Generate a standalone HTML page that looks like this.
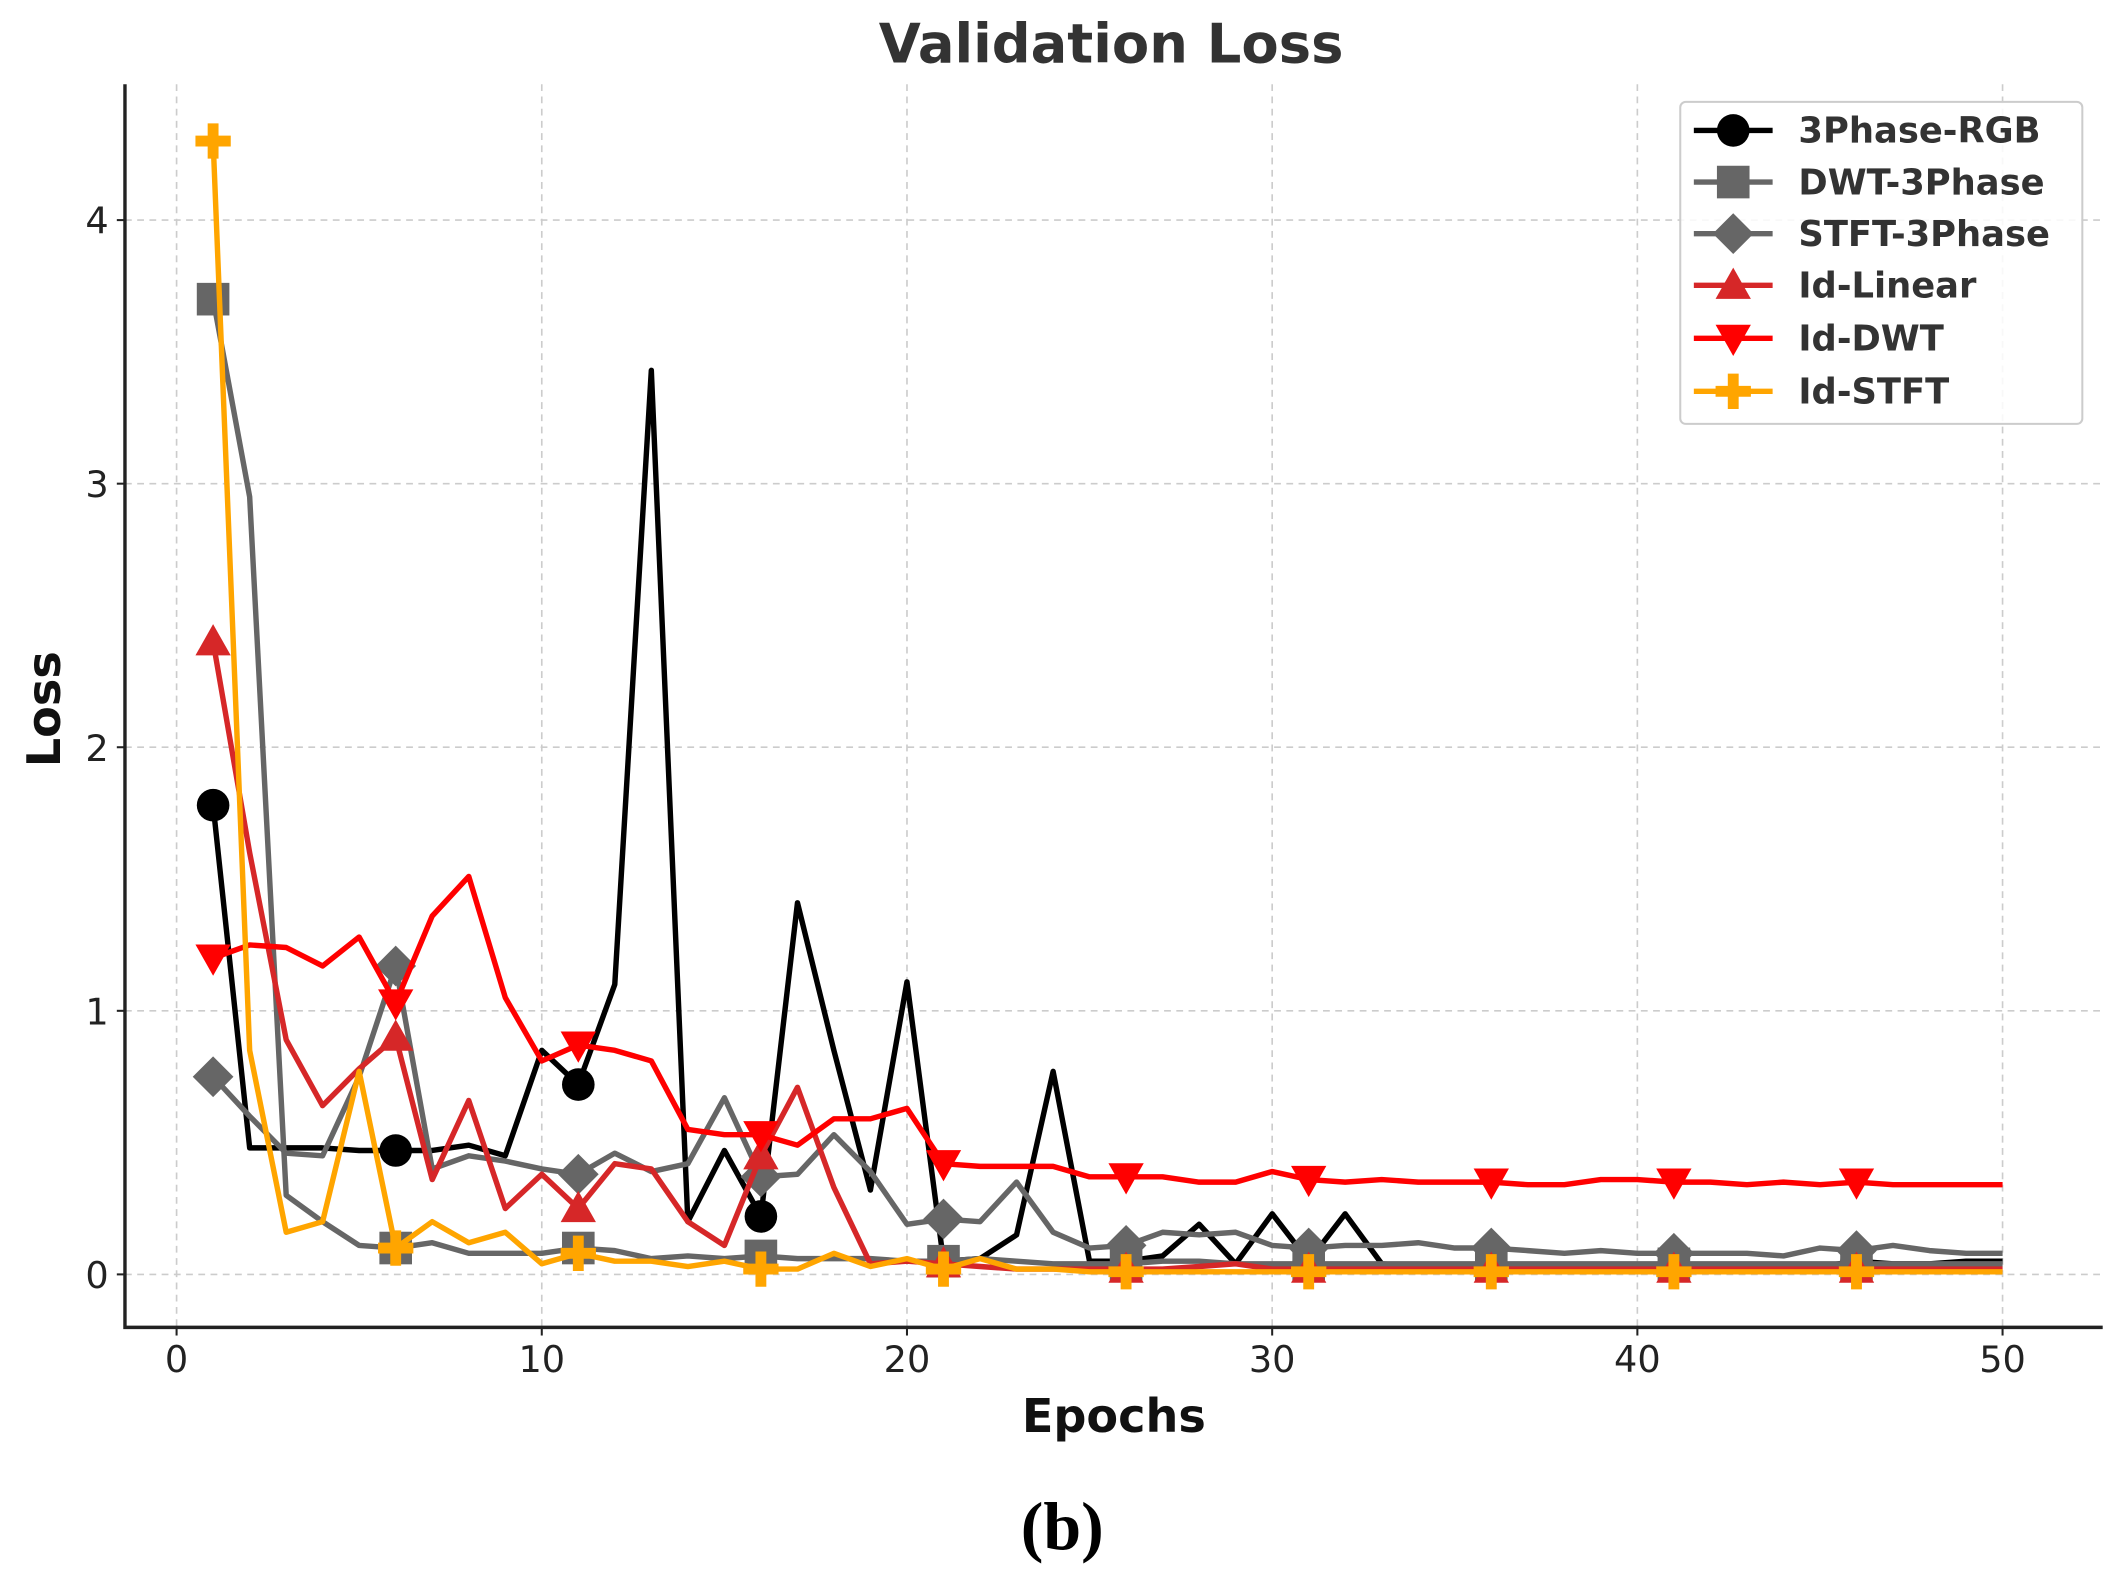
<!DOCTYPE html>
<html><head><meta charset="utf-8"><style>
html,body{margin:0;padding:0;background:#fff;}
svg{display:block;}
text{font-family:"DejaVu Sans","Liberation Sans",sans-serif;}
</style></head><body>
<svg id="chart" width="2119" height="1576" viewBox="0 0 1560 1160" preserveAspectRatio="none" xmlns="http://www.w3.org/2000/svg">
<text x="818" y="46" text-anchor="middle" font-size="40" font-weight="bold" fill="#333">Validation Loss</text>
<g id="grid"></g>
<g id="series"></g>
<g id="axes"></g>
<text x="820" y="1054" text-anchor="middle" font-size="34" font-weight="bold" fill="#111">Epochs</text>
<text transform="translate(44,522) rotate(-90)" text-anchor="middle" font-size="34" font-weight="bold" fill="#111">Loss</text>
<text x="782" y="1140" text-anchor="middle" font-size="50" font-weight="bold" style="font-family:'Liberation Serif',serif" fill="#000">(b)</text>
<g id="legend"></g>
</svg>
<script>
const epochs = Array.from({length:50},(_,i)=>i+1);
const seriesNames = ["3Phase-RGB","DWT-3Phase","STFT-3Phase","Id-Linear","Id-DWT","Id-STFT"];
const rgb = [1.78,0.48,0.48,0.48,0.47,0.47,0.47,0.49,0.45,0.85,0.72,1.1,3.43,0.2,0.47,0.22,1.41,0.85,0.32,1.11,0.05,0.06,0.15,0.77,0.05,0.05,0.07,0.19,0.04,0.23,0.05,0.23,0.04,0.03,0.03,0.03,0.03,0.03,0.03,0.03,0.03,0.03,0.03,0.03,0.03,0.05,0.04,0.04,0.05,0.05];
const dwt3 = [3.7,2.95,0.3,0.2,0.11,0.1,0.12,0.08,0.08,0.08,0.1,0.09,0.06,0.07,0.06,0.07,0.06,0.06,0.06,0.05,0.05,0.06,0.05,0.04,0.04,0.04,0.05,0.05,0.04,0.04,0.04,0.04,0.04,0.04,0.04,0.04,0.04,0.04,0.04,0.04,0.04,0.04,0.04,0.04,0.04,0.04,0.04,0.04,0.04,0.04];
const stft3 = [0.75,0.6,0.46,0.45,0.75,1.17,0.4,0.45,0.43,0.4,0.38,0.46,0.39,0.42,0.67,0.37,0.38,0.53,0.39,0.19,0.21,0.2,0.35,0.16,0.1,0.11,0.16,0.15,0.16,0.11,0.1,0.11,0.11,0.12,0.1,0.1,0.09,0.08,0.09,0.08,0.08,0.08,0.08,0.07,0.1,0.09,0.11,0.09,0.08,0.08];
const idLinear = [2.4,1.6,0.89,0.64,0.78,0.9,0.36,0.66,0.25,0.38,0.25,0.42,0.4,0.2,0.11,0.45,0.71,0.33,0.04,0.05,0.04,0.03,0.02,0.02,0.02,0.02,0.02,0.03,0.04,0.02,0.02,0.02,0.02,0.02,0.02,0.02,0.02,0.02,0.02,0.02,0.02,0.02,0.02,0.02,0.02,0.02,0.02,0.02,0.02,0.02];
const idDwt = [1.2,1.25,1.24,1.17,1.28,1.03,1.36,1.51,1.05,0.81,0.87,0.85,0.81,0.55,0.53,0.53,0.49,0.59,0.59,0.63,0.42,0.41,0.41,0.41,0.37,0.37,0.37,0.35,0.35,0.39,0.36,0.35,0.36,0.35,0.35,0.35,0.34,0.34,0.36,0.36,0.35,0.35,0.34,0.35,0.34,0.35,0.34,0.34,0.34,0.34];
const idStft = [4.3,0.85,0.16,0.2,0.77,0.1,0.2,0.12,0.16,0.04,0.08,0.05,0.05,0.03,0.05,0.02,0.02,0.08,0.03,0.06,0.02,0.06,0.02,0.02,0.01,0.01,0.01,0.01,0.01,0.01,0.01,0.01,0.01,0.01,0.01,0.01,0.01,0.01,0.01,0.01,0.01,0.01,0.01,0.01,0.01,0.01,0.01,0.01,0.01,0.01];
const xTicks = [0,10,20,30,40,50];
const yTicks = [0,1,2,3,4];

const NS="http://www.w3.org/2000/svg";
const X0=130, XS=(1481-130)/50.25, Y0=938, YS=(938-162)/4;
const L=92,R=1548,T=62,B=977;
function sx(v){return X0+v*XS;}
function sy(v){return Y0-v*YS;}
function mk(tag,attrs,parent){const e=document.createElementNS(NS,tag);for(const k in attrs)e.setAttribute(k,attrs[k]);parent.appendChild(e);return e;}
const grid=document.getElementById('grid'), axes=document.getElementById('axes'), ser=document.getElementById('series'), leg=document.getElementById('legend');
xTicks.forEach(t=>{
  const g=mk('line',{x1:sx(t),x2:sx(t),y1:T,y2:B,stroke:'#ccc','stroke-width':1.2,'stroke-dasharray':'5,4'},grid);
  
  
  const tk=mk('line',{x1:sx(t),x2:sx(t),y1:B,y2:B+6,stroke:'#222','stroke-width':1.5},axes);
  
  
  const tx=mk('text',{x:sx(t),y:B+33,'text-anchor':'middle','font-size':27,fill:'#222'},axes);
  tx.textContent=t;
  
  
});
yTicks.forEach(t=>{
  const g=mk('line',{x1:L,x2:R,y1:sy(t),y2:sy(t),stroke:'#ccc','stroke-width':1.2,'stroke-dasharray':'5,4'},grid);
  
  
  const tk=mk('line',{x1:L-6,x2:L,y1:sy(t),y2:sy(t),stroke:'#222','stroke-width':1.5},axes);
  
  
  const tx=mk('text',{x:L-12,y:sy(t)+10,'text-anchor':'end','font-size':27,fill:'#222'},axes);
  tx.textContent=t;
  
  
});
const sp=mk('path',{d:`M${L},${T} L${L},${B} L${R},${B}`,fill:'none',stroke:'#222','stroke-width':2.5},axes);



function marker(type,x,y,color,parent,s){
  let e;
  if(type==='o') e=mk('circle',{cx:x,cy:y,r:12*s,fill:color},parent);
  else if(type==='s') e=mk('rect',{x:x-12*s,y:y-12*s,width:24*s,height:24*s,fill:color},parent);
  else if(type==='D') e=mk('polygon',{points:`${x},${y-15*s} ${x+15*s},${y} ${x},${y+15*s} ${x-15*s},${y}`,fill:color},parent);
  else if(type==='^') e=mk('polygon',{points:`${x},${y-13*s} ${x+13*s},${y+10*s} ${x-13*s},${y+10*s}`,fill:color},parent);
  else if(type==='v') e=mk('polygon',{points:`${x},${y+13*s} ${x+13*s},${y-10*s} ${x-13*s},${y-10*s}`,fill:color},parent);
  else if(type==='P') e=mk('path',{d:`M${x-4*s},${y-13*s}h${8*s}v${9*s}h${9*s}v${8*s}h${-9*s}v${9*s}h${-8*s}v${-9*s}h${-9*s}v${-8*s}h${9*s}z`,fill:color},parent);
  return e;
}
const allData=[rgb,dwt3,stft3,idLinear,idDwt,idStft];
const colors=['#000000','#666666','#666666','#d62728','#ff0000','#ffa500'];
const mtypes=['o','s','D','^','v','P'];
allData.forEach((arr,si)=>{
  const g=mk('g',{},ser);
  
  
  const d=arr.map((v,i)=>(i?'L':'M')+sx(epochs[i]).toFixed(1)+','+sy(v).toFixed(1)).join(' ');
  const p=mk('path',{d:d,fill:'none',stroke:colors[si],'stroke-width':4,'stroke-linejoin':'round'},g);
  
  
  arr.forEach((v,i)=>{ if(i%5===0){
    const m=marker(mtypes[si],sx(epochs[i]),sy(v),colors[si],g,1);
    
    
  }});
});
const box=mk('rect',{x:1237,y:75,width:296,height:237,rx:4,fill:'#fff','fill-opacity':0.85,stroke:'#ccc','stroke-width':1.5},leg);


const rows=[96,134,172,210,249,288];
seriesNames.forEach((n,i)=>{
  const g=mk('g',{},leg);
  
  
  mk('line',{x1:1247,x2:1305,y1:rows[i],y2:rows[i],stroke:colors[i],'stroke-width':4},g);
  marker(mtypes[i],1276,rows[i],colors[i],g,1);
  const t=mk('text',{x:1324,y:rows[i]+9,'font-size':26,'font-weight':'bold',fill:'#333'},g);
  t.textContent=n;
});
</script>
</body></html>
